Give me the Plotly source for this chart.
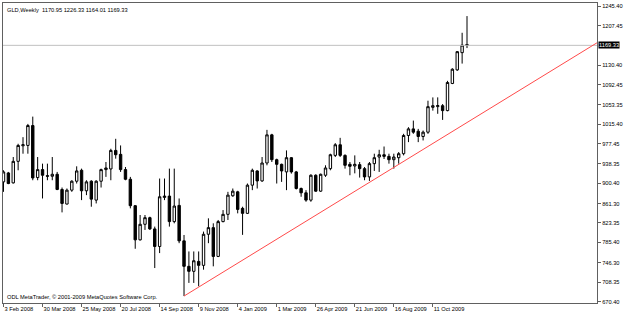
import pandas as pd
import plotly.graph_objects as go

start_date = "2008-02-03"
n_bars = 96
dates = pd.date_range(start_date, periods=n_bars, freq="7D")

opens = [903.4, 920.8, 901.5, 943.4, 973.7, 974.4, 1013.1, 911.8, 927.3, 915.5,
         914.4, 918.2, 888.6, 860.2, 887.3, 904.7, 926.0, 886.0, 904.7, 867.9,
         904.7, 927.3, 928.6, 964.7, 957.0, 927.3, 908.5, 857.0, 790.5, 820.8,
         833.7, 811.8, 777.6, 873.1, 875.7, 826.0, 857.6, 788.5, 738.9, 729.2,
         748.5, 740.8, 801.4, 814.3, 758.2, 826.0, 840.2, 876.3, 884.0, 851.8,
         842.1, 897.0, 924.7, 905.3, 940.2, 995.0, 946.6, 937.6, 922.8, 950.5,
         922.8, 890.5, 882.1, 867.9, 916.3, 885.3, 916.3, 929.2, 955.0, 975.7,
         955.0, 937.6, 934.4, 937.0, 929.2, 913.1, 938.9, 951.8, 956.3, 953.1,
         946.6, 950.5, 958.3, 993.8, 1006.6, 1002.1, 991.8, 1000.2, 1048.6, 1050.0,
         1051.8, 1042.2, 1095.1, 1121.5, 1155.1, 1170.95]
highs = [926.0, 922.8, 951.8, 977.6, 990.5, 1016.3, 1030.5, 951.8, 938.9, 938.9,
         951.8, 922.8, 892.4, 890.5, 906.6, 933.7, 929.2, 906.6, 906.6, 906.6,
         929.2, 942.1, 967.9, 987.3, 974.4, 932.4, 913.1, 858.2, 838.9, 838.9,
         835.6, 816.3, 909.9, 909.9, 929.2, 929.2, 871.1, 800.0, 767.9, 767.9,
         767.9, 806.6, 832.4, 822.7, 829.2, 848.5, 884.0, 890.5, 886.0, 855.0,
         900.2, 929.2, 926.0, 951.8, 1004.7, 997.0, 948.6, 938.9, 964.7, 951.8,
         924.7, 892.4, 887.3, 918.2, 918.2, 919.5, 935.7, 958.3, 978.9, 989.2,
         957.0, 942.1, 955.0, 942.1, 932.4, 942.1, 958.3, 965.9, 972.3, 958.3,
         958.3, 961.5, 997.0, 1009.9, 1022.8, 1006.6, 1003.4, 1061.5, 1067.9, 1068.0,
         1055.0, 1100.2, 1124.7, 1158.3, 1193.8, 1226.33]
lows = [884.0, 898.9, 900.2, 926.0, 958.3, 958.3, 906.6, 906.6, 871.1, 906.6,
        906.6, 887.3, 844.0, 859.5, 884.0, 900.2, 867.9, 877.6, 855.0, 861.4,
        892.4, 913.1, 906.6, 948.6, 922.8, 906.6, 851.8, 773.1, 789.2, 809.8,
        809.8, 735.6, 764.7, 867.9, 816.3, 822.7, 784.0, 681.0, 706.6, 706.6,
        700.1, 732.4, 784.0, 738.9, 756.9, 824.7, 829.2, 874.4, 842.1, 800.2,
        840.8, 887.3, 890.5, 903.4, 935.7, 942.1, 900.2, 903.4, 887.3, 919.5,
        888.6, 874.4, 864.7, 864.7, 884.0, 884.0, 913.1, 926.0, 951.8, 951.8,
        929.2, 916.3, 920.0, 911.8, 906.6, 905.3, 924.7, 922.8, 948.0, 938.9,
        929.2, 938.9, 955.0, 980.8, 997.0, 980.8, 984.1, 997.0, 1042.2, 1036.0,
        1024.1, 1040.9, 1093.8, 1119.6, 1133.8, 1164.01]
closes = [922.8, 900.2, 943.4, 974.4, 975.7, 1013.1, 911.1, 927.3, 916.3, 914.5,
          918.2, 888.6, 861.4, 887.3, 904.7, 924.7, 886.0, 903.4, 869.8, 904.7,
          927.3, 930.5, 964.7, 956.3, 927.3, 908.5, 857.0, 790.5, 820.8, 833.7,
          811.8, 777.6, 874.4, 875.7, 826.0, 856.3, 788.5, 738.9, 729.2, 749.8,
          740.8, 801.4, 814.3, 758.2, 826.0, 840.2, 877.6, 885.3, 849.8, 842.1,
          897.0, 926.0, 905.3, 940.2, 995.0, 946.6, 937.6, 924.7, 950.5, 922.8,
          890.5, 882.1, 867.9, 916.3, 885.3, 918.2, 930.5, 956.3, 975.7, 955.0,
          935.7, 933.7, 937.6, 929.2, 913.1, 938.9, 950.5, 956.3, 953.1, 946.6,
          951.8, 958.3, 993.8, 1006.6, 1000.2, 991.8, 1000.2, 1049.9, 1051.8, 1052.0,
          1042.2, 1097.0, 1122.8, 1157.0, 1169.9, 1169.33]

title_text = "GLD,Weekly  1170.95 1226.33 1164.01 1169.33"
copyright_text = "ODL MetaTrader, \u00a9 2001-2009 MetaQuotes Software Corp."

y_tick_vals = [1245.40, 1207.45, 1130.40, 1092.45, 1053.35, 1015.40, 977.45, 938.35,
               900.40, 861.30, 823.35, 785.40, 746.30, 708.35, 670.40]
y_tick_text = ["%.2f" % v for v in y_tick_vals]
current_price = 1169.33

x_tick_vals = ["2008-02-03", "2008-03-30", "2008-05-25", "2008-07-20", "2008-09-14",
               "2008-11-09", "2009-01-04", "2009-03-01", "2009-04-26", "2009-06-21",
               "2009-08-16", "2009-10-11"]
x_tick_text = ["3 Feb 2008", "30 Mar 2008", "25 May 2008", "20 Jul 2008", "14 Sep 2008",
               "9 Nov 2008", "4 Jan 2009", "1 Mar 2009", "26 Apr 2009", "21 Jun 2009",
               "16 Aug 2009", "11 Oct 2009"]

trend_x = ["2008-10-19", "2010-06-03 12:00"]
trend_y = [681.0, 1174.3]

x_range = ["2008-02-02 07:00", "2010-06-03 12:00"]
y_range = [667.5, 1251.8]

FONT = "Liberation Sans"
FS = 5.7
fig = go.Figure()

fig.add_trace(go.Scatter(
    x=x_range, y=[current_price, current_price], mode="lines",
    line=dict(color="#c0c0c0", width=1), hoverinfo="skip", showlegend=False))

fig.add_trace(go.Scatter(
    x=trend_x, y=trend_y, mode="lines",
    line=dict(color="#ff4a4a", width=1), hoverinfo="skip", showlegend=False))

fig.add_trace(go.Candlestick(
    x=dates, open=opens, high=highs, low=lows, close=closes,
    increasing=dict(fillcolor="#ffffff", line=dict(color="#000000", width=1)),
    decreasing=dict(fillcolor="#000000", line=dict(color="#000000", width=1)),
    whiskerwidth=0, showlegend=False))

fig.update_layout(
    width=625, height=314,
    margin=dict(l=2, r=24, t=2, b=11),
    paper_bgcolor="#ffffff", plot_bgcolor="#ffffff",
    font=dict(family=FONT, size=FS, color="#000000"),
    showlegend=False,
    xaxis=dict(
        type="date", range=x_range, rangeslider=dict(visible=False),
        tickvals=x_tick_vals, ticktext=x_tick_text, tickangle=0,
        ticks="outside", ticklen=3, tickcolor="#606060",
        ticklabelposition="outside right",
        showgrid=False, zeroline=False,
        showline=True, linecolor="#606060", linewidth=1, mirror=True,
        tickfont=dict(family=FONT, size=FS, color="#000000"),
    ),
    yaxis=dict(
        side="right", range=y_range,
        tickvals=y_tick_vals, ticktext=y_tick_text,
        ticks="outside", ticklen=3, tickcolor="#606060",
        showgrid=False, zeroline=False,
        showline=True, linecolor="#606060", linewidth=1, mirror=True,
        tickfont=dict(family=FONT, size=FS, color="#000000"),
    ),
    annotations=[
        dict(text=title_text, xref="paper", yref="paper", x=0.004, y=0.995,
             xanchor="left", yanchor="top", showarrow=False,
             font=dict(family=FONT, size=FS, color="#000000")),
        dict(text=copyright_text, xref="paper", yref="paper", x=0.004, y=0.005,
             xanchor="left", yanchor="bottom", showarrow=False,
             font=dict(family=FONT, size=FS, color="#000000")),
        dict(text="1169.33", xref="paper", yref="y", x=1.0, y=current_price,
             xanchor="left", yanchor="middle", showarrow=False, xshift=1,
             bgcolor="#000000", borderpad=0,
             font=dict(family=FONT, size=FS, color="#ffffff")),
    ],
)

fig.write_html("out.html")
